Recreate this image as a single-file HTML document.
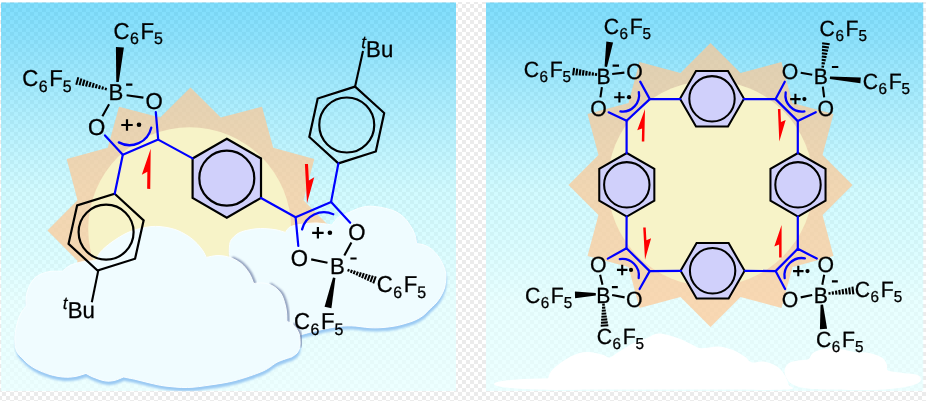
<!DOCTYPE html><html><head><meta charset="utf-8"><style>html,body{margin:0;padding:0;background:#fff}svg{display:block}</style></head><body>
<svg width="926" height="401" viewBox="0 0 926 401" text-rendering="geometricPrecision" style="opacity:0.999">
<defs>
<pattern id="chk" x="2" y="0" width="8" height="8" patternUnits="userSpaceOnUse"><rect width="8" height="8" fill="#fff"/><rect width="4" height="4" fill="#ebebeb"/><rect x="4" y="4" width="4" height="4" fill="#ebebeb"/></pattern>
<linearGradient id="sky" x1="0" y1="0" x2="0" y2="1"><stop offset="0" stop-color="rgb(32,197,251)" stop-opacity="0.57"/><stop offset="0.10" stop-color="rgb(57,204,250)" stop-opacity="0.57"/><stop offset="0.49" stop-color="rgb(168,247,255)" stop-opacity="0.52"/><stop offset="0.77" stop-color="rgb(221,255,255)" stop-opacity="0.68"/><stop offset="1" stop-color="rgb(232,255,255)" stop-opacity="0.8"/></linearGradient>
<clipPath id="cl"><rect x="1" y="2.6" width="455.2" height="388.6"/></clipPath>
<clipPath id="cr"><rect x="486" y="2.6" width="437.5" height="388.6"/></clipPath>
<filter id="b1" x="-5%" y="-5%" width="110%" height="115%"><feGaussianBlur stdDeviation="0.8"/></filter><filter id="b05" x="-10%" y="-10%" width="120%" height="120%"><feGaussianBlur stdDeviation="0.5"/></filter>
<filter id="b07" x="-10%" y="-10%" width="120%" height="120%"><feGaussianBlur stdDeviation="0.8"/></filter>
</defs>
<rect width="926" height="401" fill="#fff"/>
<rect x="0" y="2" width="926" height="399" fill="url(#chk)"/>
<g clip-path="url(#cl)">
<rect x="1" y="2" width="455" height="389" fill="url(#sky)"/>
<polygon points="333.5,230.5 303.51,200.22 314.34,159 273.23,147.77 262,106.66 220.78,117.49 190.5,87.5 160.22,117.49 119,106.66 107.77,147.77 66.66,159 77.49,200.22 47.5,230.5 77.49,260.78 66.66,302 107.77,313.23 119,354.34 160.22,343.51 190.5,373.5 220.78,343.51 262,354.34 273.23,313.23 314.34,302 303.51,260.78" fill="#ffc793" opacity="0.7"/>
<circle cx="189.7" cy="228.8" r="101.5" fill="#f7f3c8"/>
<path d="M230.1,257.6 C230.13,256.27 229.98,251.95 230.3,249.6 C230.62,247.25 230.58,245.58 232,243.5 C233.42,241.42 236.3,238.67 238.8,237.1 C241.3,235.53 244,234.88 247,234.1 C250,233.32 253.68,232.72 256.8,232.4 C259.92,232.08 262.37,232.03 265.7,232.2 C269.03,232.37 273.38,232.77 276.8,233.4 C280.22,234.03 284.63,235.57 286.2,236 C286.97,235.1 288.37,231.92 290.8,230.6 C293.23,229.28 296.47,228.77 300.8,228.1 C305.13,227.43 311.47,226.53 316.8,226.6 C322.13,226.67 330.13,228.18 332.8,228.5 C333.8,227.27 336.3,223 338.8,221.1 C341.3,219.2 344.47,218.6 347.8,217.1 C351.13,215.6 355.05,213.32 358.8,212.1 C362.55,210.88 365.97,209.88 370.3,209.8 C374.63,209.72 380.38,210.67 384.8,211.6 C389.22,212.53 393.3,213.65 396.8,215.4 C400.3,217.15 403.3,219.6 405.8,222.1 C408.3,224.6 410.13,227.65 411.8,230.4 C413.47,233.15 414.87,235.8 415.8,238.6 C416.73,241.4 417.13,245.77 417.4,247.2 C418.63,247.43 422.3,247.67 424.8,248.6 C427.3,249.53 430.07,250.97 432.4,252.8 C434.73,254.63 436.93,257.1 438.8,259.6 C440.67,262.1 442.35,265.13 443.6,267.8 C444.85,270.47 445.8,273.12 446.3,275.6 C446.8,278.08 446.77,280.03 446.6,282.7 C446.43,285.37 446.1,288.8 445.3,291.6 C444.5,294.4 443.22,297 441.8,299.5 C440.38,302 438.68,304.42 436.8,306.6 C434.92,308.78 431.55,311.6 430.5,312.6 C429.38,313.68 426.28,317.23 423.8,319.1 C421.32,320.97 418.6,322.47 415.6,323.8 C412.6,325.13 408.93,326.17 405.8,327.1 C402.67,328.03 400.47,328.73 396.8,329.4 C393.13,330.07 388.13,330.78 383.8,331.1 C379.47,331.42 376.1,331.58 370.8,331.3 C365.5,331.02 357.83,329.52 352,329.4 C346.17,329.28 342.08,329.67 335.8,330.6 C329.52,331.53 320.13,333.67 314.3,335 C308.47,336.33 303.05,338 300.8,338.6 C297.47,337.77 288.3,339.43 280.8,333.6 C273.3,327.77 263.3,312.77 255.8,303.6 C248.3,294.43 240.08,286.27 235.8,278.6 C231.52,270.93 231.05,261.1 230.1,257.6Z" fill="#9ac9f3" filter="url(#b1)"/>
<path d="M229.3,254 C229.33,252.67 229.18,248.35 229.5,246 C229.82,243.65 229.78,241.98 231.2,239.9 C232.62,237.82 235.5,235.07 238,233.5 C240.5,231.93 243.2,231.28 246.2,230.5 C249.2,229.72 252.88,229.12 256,228.8 C259.12,228.48 261.57,228.43 264.9,228.6 C268.23,228.77 272.58,229.17 276,229.8 C279.42,230.43 283.83,231.97 285.4,232.4 C286.17,231.5 287.57,228.32 290,227 C292.43,225.68 295.67,225.17 300,224.5 C304.33,223.83 310.67,222.93 316,223 C321.33,223.07 329.33,224.58 332,224.9 C333,223.67 335.5,219.4 338,217.5 C340.5,215.6 343.67,215 347,213.5 C350.33,212 354.25,209.72 358,208.5 C361.75,207.28 365.17,206.28 369.5,206.2 C373.83,206.12 379.58,207.07 384,208 C388.42,208.93 392.5,210.05 396,211.8 C399.5,213.55 402.5,216 405,218.5 C407.5,221 409.33,224.05 411,226.8 C412.67,229.55 414.07,232.2 415,235 C415.93,237.8 416.33,242.17 416.6,243.6 C417.83,243.83 421.5,244.07 424,245 C426.5,245.93 429.27,247.37 431.6,249.2 C433.93,251.03 436.13,253.5 438,256 C439.87,258.5 441.55,261.53 442.8,264.2 C444.05,266.87 445,269.52 445.5,272 C446,274.48 445.97,276.43 445.8,279.1 C445.63,281.77 445.3,285.2 444.5,288 C443.7,290.8 442.42,293.4 441,295.9 C439.58,298.4 437.88,300.82 436,303 C434.12,305.18 430.75,308 429.7,309 C428.58,310.08 425.48,313.63 423,315.5 C420.52,317.37 417.8,318.87 414.8,320.2 C411.8,321.53 408.13,322.57 405,323.5 C401.87,324.43 399.67,325.13 396,325.8 C392.33,326.47 387.33,327.18 383,327.5 C378.67,327.82 375.3,327.98 370,327.7 C364.7,327.42 357.03,325.92 351.2,325.8 C345.37,325.68 341.28,326.07 335,327 C328.72,327.93 319.33,330.07 313.5,331.4 C307.67,332.73 302.25,334.4 300,335 C296.67,334.17 287.5,335.83 280,330 C272.5,324.17 262.5,309.17 255,300 C247.5,290.83 239.28,282.67 235,275 C230.72,267.33 230.25,257.5 229.3,254Z" fill="#effcff" stroke="#fafeff" stroke-width="1"/>
<path d="M23,362.2 C22.1,361.13 18.83,358.28 17.6,355.8 C16.37,353.32 15.9,350.3 15.6,347.3 C15.3,344.3 15.5,340.92 15.8,337.8 C16.1,334.68 16.52,331.93 17.4,328.6 C18.28,325.27 19.53,320.92 21.1,317.8 C22.67,314.68 25.85,311.22 26.8,309.9 C26.8,308.38 26.42,303.82 26.8,300.8 C27.18,297.78 27.97,294.63 29.1,291.8 C30.23,288.97 31.68,286.05 33.6,283.8 C35.52,281.55 37.77,279.72 40.6,278.3 C43.43,276.88 46.88,275.83 50.6,275.3 C54.32,274.77 60.85,275.13 62.9,275.1 C64.18,274.13 67.32,270.88 70.6,269.3 C73.88,267.72 78.3,266.43 82.6,265.6 C86.9,264.77 94.1,264.52 96.4,264.3 C97.18,262.88 98.4,258.88 101.1,255.8 C103.8,252.72 108.02,249.05 112.6,245.8 C117.18,242.55 123.1,238.72 128.6,236.3 C134.1,233.88 140.43,232.3 145.6,231.3 C150.77,230.3 154.6,229.97 159.6,230.3 C164.6,230.63 170.77,231.72 175.6,233.3 C180.43,234.88 184.93,237.47 188.6,239.8 C192.27,242.13 195.1,244.8 197.6,247.3 C200.1,249.8 202.03,252.48 203.6,254.8 C205.17,257.12 206.43,260.13 207,261.2 C208.93,260.88 214.67,259.28 218.6,259.3 C222.53,259.32 226.77,259.97 230.6,261.3 C234.43,262.63 238.43,264.72 241.6,267.3 C244.77,269.88 247.48,273.47 249.6,276.8 C251.72,280.13 253.52,285.55 254.3,287.3 C255.85,287.22 260.43,286.42 263.6,286.8 C266.77,287.18 270.38,287.93 273.3,289.6 C276.22,291.27 279.13,294.03 281.1,296.8 C283.07,299.57 284.1,303.03 285.1,306.2 C286.1,309.37 286.7,312.63 287.1,315.8 C287.5,318.97 287.43,323.63 287.5,325.2 C288.68,325.88 292.62,327.33 294.6,329.3 C296.58,331.27 298.4,334.5 299.4,337 C300.4,339.5 300.45,341.93 300.6,344.3 C300.75,346.67 300.8,349.12 300.3,351.2 C299.8,353.28 298.93,355.22 297.6,356.8 C296.27,358.38 293.18,360.05 292.3,360.7 C289.93,361.55 282.88,363.45 278.1,365.8 C273.32,368.15 270.68,371.72 263.6,374.8 C256.52,377.88 244.43,381.97 235.6,384.3 C226.77,386.63 218.52,387.63 210.6,388.8 C202.68,389.97 195.6,391.13 188.1,391.3 C180.6,391.47 171.85,390.55 165.6,389.8 C159.35,389.05 155.43,387.88 150.6,386.8 C145.77,385.72 141.02,384.3 136.6,383.3 C132.18,382.3 126.18,381.22 124.1,380.8 C122.52,381.38 117.73,383.67 114.6,384.3 C111.47,384.93 108.8,385.18 105.3,384.6 C101.8,384.02 96.72,382.03 93.6,380.8 C90.48,379.57 87.77,377.8 86.6,377.2 C84.77,377.72 79.33,379.68 75.6,380.3 C71.87,380.92 68.37,381.23 64.2,380.9 C60.03,380.57 54.97,379.55 50.6,378.3 C46.23,377.05 41.5,375.07 38,373.4 C34.5,371.73 32.1,370.17 29.6,368.3 C27.1,366.43 24.1,363.22 23,362.2Z" fill="#9ac9f3" filter="url(#b1)"/>
<path d="M233.1,258.3 C234.6,259.13 239.27,260.88 242.1,263.3 C244.93,265.72 247.98,269.47 250.1,272.8 C252.22,276.13 254.02,281.55 254.8,283.3" fill="none" stroke="#6f7fa6" stroke-width="2.8" stroke-linecap="round" opacity="0.85" filter="url(#b07)"/>
<path d="M271.1,284.6 C272.85,285.97 279.18,289.87 281.6,292.8 C284.02,295.73 284.6,299.03 285.6,302.2 C286.6,305.37 287.2,308.63 287.6,311.8 C288,314.97 287.93,319.63 288,321.2" fill="none" stroke="#6f7fa6" stroke-width="2.8" stroke-linecap="round" opacity="0.85" filter="url(#b07)"/>
<path d="M294.1,324.6 C295.07,326 298.73,330.38 299.9,333 C301.07,335.62 300.95,338.17 301.1,340.3 C301.25,342.43 300.85,344.88 300.8,345.8" fill="none" stroke="#6f7fa6" stroke-width="2.8" stroke-linecap="round" opacity="0.85" filter="url(#b07)"/>
<path d="M22.4,358.4 C21.5,357.33 18.23,354.48 17,352 C15.77,349.52 15.3,346.5 15,343.5 C14.7,340.5 14.9,337.12 15.2,334 C15.5,330.88 15.92,328.13 16.8,324.8 C17.68,321.47 18.93,317.12 20.5,314 C22.07,310.88 25.25,307.42 26.2,306.1 C26.2,304.58 25.82,300.02 26.2,297 C26.58,293.98 27.37,290.83 28.5,288 C29.63,285.17 31.08,282.25 33,280 C34.92,277.75 37.17,275.92 40,274.5 C42.83,273.08 46.28,272.03 50,271.5 C53.72,270.97 60.25,271.33 62.3,271.3 C63.58,270.33 66.72,267.08 70,265.5 C73.28,263.92 77.7,262.63 82,261.8 C86.3,260.97 93.5,260.72 95.8,260.5 C96.58,259.08 97.8,255.08 100.5,252 C103.2,248.92 107.42,245.25 112,242 C116.58,238.75 122.5,234.92 128,232.5 C133.5,230.08 139.83,228.5 145,227.5 C150.17,226.5 154,226.17 159,226.5 C164,226.83 170.17,227.92 175,229.5 C179.83,231.08 184.33,233.67 188,236 C191.67,238.33 194.5,241 197,243.5 C199.5,246 201.43,248.68 203,251 C204.57,253.32 205.83,256.33 206.4,257.4 C208.33,257.08 214.07,255.48 218,255.5 C221.93,255.52 226.17,256.17 230,257.5 C233.83,258.83 237.83,260.92 241,263.5 C244.17,266.08 246.88,269.67 249,273 C251.12,276.33 252.92,281.75 253.7,283.5 C255.25,283.42 259.83,282.62 263,283 C266.17,283.38 269.78,284.13 272.7,285.8 C275.62,287.47 278.53,290.23 280.5,293 C282.47,295.77 283.5,299.23 284.5,302.4 C285.5,305.57 286.1,308.83 286.5,312 C286.9,315.17 286.83,319.83 286.9,321.4 C288.08,322.08 292.02,323.53 294,325.5 C295.98,327.47 297.8,330.7 298.8,333.2 C299.8,335.7 299.85,338.13 300,340.5 C300.15,342.87 300.2,345.32 299.7,347.4 C299.2,349.48 298.33,351.42 297,353 C295.67,354.58 292.58,356.25 291.7,356.9 C289.33,357.75 282.28,359.65 277.5,362 C272.72,364.35 270.08,367.92 263,371 C255.92,374.08 243.83,378.17 235,380.5 C226.17,382.83 217.92,383.83 210,385 C202.08,386.17 195,387.33 187.5,387.5 C180,387.67 171.25,386.75 165,386 C158.75,385.25 154.83,384.08 150,383 C145.17,381.92 140.42,380.5 136,379.5 C131.58,378.5 125.58,377.42 123.5,377 C121.92,377.58 117.13,379.87 114,380.5 C110.87,381.13 108.2,381.38 104.7,380.8 C101.2,380.22 96.12,378.23 93,377 C89.88,375.77 87.17,374 86,373.4 C84.17,373.92 78.73,375.88 75,376.5 C71.27,377.12 67.77,377.43 63.6,377.1 C59.43,376.77 54.37,375.75 50,374.5 C45.63,373.25 40.9,371.27 37.4,369.6 C33.9,367.93 31.5,366.37 29,364.5 C26.5,362.63 23.5,359.42 22.4,358.4Z" fill="#f0fcff" stroke="#fafeff" stroke-width="1"/>
<polygon points="226.8,138.7 261.01,158.45 261.01,197.95 226.8,217.7 192.59,197.95 192.59,158.45" fill="#d0d0fb" stroke="#000" stroke-width="2.2" stroke-linejoin="miter"/>
<circle cx="226.8" cy="178.2" r="27.5" fill="none" stroke="#000" stroke-width="2.2"/>
<polygon points="355.12,86.6 384.19,113.05 375.82,151.45 338.38,163.4 309.31,136.95 317.68,98.55" fill="none" stroke="#000" stroke-width="2.2" stroke-linejoin="miter"/>
<circle cx="346.75" cy="125" r="27.5" fill="none" stroke="#000" stroke-width="2.2"/>
<polygon points="114.68,193.7 143.65,220.33 135.07,258.74 97.52,270.5 68.55,243.87 77.13,205.46" fill="none" stroke="#000" stroke-width="2.2" stroke-linejoin="miter"/>
<circle cx="106.1" cy="232.1" r="27.5" fill="none" stroke="#000" stroke-width="2.2"/>
<polyline points="105,135.4 122.8,154.7 158.2,139.6 155.8,112.2" fill="none" stroke="#0000ff" stroke-width="2.2" stroke-linejoin="round" stroke-linecap="round"/>
<polyline points="158.2,139.6 192.6,158.4" fill="none" stroke="#0000ff" stroke-width="2.2" stroke-linejoin="round" stroke-linecap="round"/>
<polyline points="122.8,154.7 114.7,193.7" fill="none" stroke="#0000ff" stroke-width="2.2" stroke-linejoin="round" stroke-linecap="round"/>
<polyline points="261,198 295.6,217.2 331.1,201.9 338.4,163.4" fill="none" stroke="#0000ff" stroke-width="2.2" stroke-linejoin="round" stroke-linecap="round"/>
<polyline points="331.1,201.9 350.2,222.8" fill="none" stroke="#0000ff" stroke-width="2.2" stroke-linejoin="round" stroke-linecap="round"/>
<polyline points="295.6,217.2 298.3,246" fill="none" stroke="#0000ff" stroke-width="2.2" stroke-linejoin="round" stroke-linecap="round"/>
<line x1="126.6" y1="95.2" x2="143.4" y2="97.6" stroke="#000" stroke-width="2.1" stroke-linecap="butt"/>
<line x1="109.1" y1="104.3" x2="102.4" y2="116.3" stroke="#000" stroke-width="2.1" stroke-linecap="butt"/>
<line x1="311.2" y1="259.4" x2="327.5" y2="262.8" stroke="#000" stroke-width="2.1" stroke-linecap="butt"/>
<line x1="351.4" y1="242.4" x2="344.3" y2="255.6" stroke="#000" stroke-width="2.1" stroke-linecap="butt"/>
<line x1="363" y1="51.1" x2="355.1" y2="86.6" stroke="#000" stroke-width="2.1" stroke-linecap="butt"/>
<line x1="98.3" y1="270.4" x2="91.8" y2="302.2" stroke="#000" stroke-width="2.1" stroke-linecap="butt"/>
<path d="M151.24,127.68 A22.3,22.3 0 0 1 118.79,142.37" fill="none" stroke="#0000ff" stroke-width="2.3" stroke-linecap="round"/>
<path d="M302.09,229.37 A22.6,22.6 0 0 1 333.27,214.31" fill="none" stroke="#0000ff" stroke-width="2.3" stroke-linecap="round"/>
<line x1="121.25" y1="125" x2="132.75" y2="125" stroke="#000" stroke-width="2.2" stroke-linecap="butt"/>
<line x1="127" y1="119.25" x2="127" y2="130.75" stroke="#000" stroke-width="2.2" stroke-linecap="butt"/>
<circle cx="139" cy="124.7" r="2.3" fill="#000"/>
<line x1="312.15" y1="232.8" x2="323.65" y2="232.8" stroke="#000" stroke-width="2.2" stroke-linecap="butt"/>
<line x1="317.9" y1="227.05" x2="317.9" y2="238.55" stroke="#000" stroke-width="2.2" stroke-linecap="butt"/>
<circle cx="329.9" cy="232.8" r="2.3" fill="#000"/>
<line x1="126.1" y1="84.6" x2="132.4" y2="84.6" stroke="#000" stroke-width="2.1" stroke-linecap="butt"/>
<line x1="350.4" y1="258.5" x2="356.6" y2="258.5" stroke="#000" stroke-width="2.1" stroke-linecap="butt"/>
<line x1="106.15" y1="87.65" x2="105.45" y2="90.15" stroke="#000" stroke-width="2" stroke-linecap="butt"/>
<line x1="103.05" y1="86.5" x2="102.21" y2="89.54" stroke="#000" stroke-width="2" stroke-linecap="butt"/>
<line x1="99.96" y1="85.36" x2="98.97" y2="88.93" stroke="#000" stroke-width="2" stroke-linecap="butt"/>
<line x1="96.87" y1="84.21" x2="95.73" y2="88.32" stroke="#000" stroke-width="2" stroke-linecap="butt"/>
<line x1="93.78" y1="83.07" x2="92.49" y2="87.71" stroke="#000" stroke-width="2" stroke-linecap="butt"/>
<line x1="90.68" y1="81.92" x2="89.25" y2="87.1" stroke="#000" stroke-width="2" stroke-linecap="butt"/>
<line x1="87.59" y1="80.77" x2="86.01" y2="86.49" stroke="#000" stroke-width="2" stroke-linecap="butt"/>
<line x1="84.5" y1="79.63" x2="82.77" y2="85.88" stroke="#000" stroke-width="2" stroke-linecap="butt"/>
<line x1="81.41" y1="78.48" x2="79.53" y2="85.27" stroke="#000" stroke-width="2" stroke-linecap="butt"/>
<line x1="78.32" y1="77.34" x2="76.28" y2="84.66" stroke="#000" stroke-width="2" stroke-linecap="butt"/>
<line x1="348.05" y1="271.52" x2="348.95" y2="269.08" stroke="#000" stroke-width="2" stroke-linecap="butt"/>
<line x1="350.85" y1="272.84" x2="351.93" y2="269.9" stroke="#000" stroke-width="2" stroke-linecap="butt"/>
<line x1="353.64" y1="274.15" x2="354.91" y2="270.71" stroke="#000" stroke-width="2" stroke-linecap="butt"/>
<line x1="356.44" y1="275.47" x2="357.89" y2="271.53" stroke="#000" stroke-width="2" stroke-linecap="butt"/>
<line x1="359.24" y1="276.79" x2="360.88" y2="272.35" stroke="#000" stroke-width="2" stroke-linecap="butt"/>
<line x1="362.03" y1="278.1" x2="363.86" y2="273.16" stroke="#000" stroke-width="2" stroke-linecap="butt"/>
<line x1="364.83" y1="279.42" x2="366.84" y2="273.98" stroke="#000" stroke-width="2" stroke-linecap="butt"/>
<line x1="367.63" y1="280.74" x2="369.82" y2="274.8" stroke="#000" stroke-width="2" stroke-linecap="butt"/>
<line x1="370.42" y1="282.05" x2="372.8" y2="275.61" stroke="#000" stroke-width="2" stroke-linecap="butt"/>
<line x1="373.22" y1="283.37" x2="375.78" y2="276.43" stroke="#000" stroke-width="2" stroke-linecap="butt"/>
<polygon points="118.75,82.09 123.89,47.48 115.91,46.92 116.25,81.91" fill="#000"/>
<polygon points="332.98,277.54 324.57,306.78 331.43,308.22 335.42,278.06" fill="#000"/>
<polygon points="150.25,188.9 150.7,148.7 141.81,174.73 147.34,171.78 147.15,188.87" fill="#ff0000"/>
<polygon points="304.9,164.1 307,203.2 314.22,177.32 308.89,180.55 308,163.93" fill="#ff0000"/>
<text transform="translate(113.43,38.95) scale(0.965,1)" font-family="Liberation Sans, sans-serif" font-size="23" fill="#000" stroke="#000" stroke-width="0.3">C<tspan dx="0.5" font-size="16.56" dy="5.29">6</tspan><tspan dx="1.7" dy="-5.29">F</tspan><tspan dx="0" font-size="16.56" dy="5.29">5</tspan></text>
<text transform="translate(22.13,86.35) scale(0.965,1)" font-family="Liberation Sans, sans-serif" font-size="23" fill="#000" stroke="#000" stroke-width="0.3">C<tspan dx="0.5" font-size="16.56" dy="5.29">6</tspan><tspan dx="1.7" dy="-5.29">F</tspan><tspan dx="0" font-size="16.56" dy="5.29">5</tspan></text>
<text transform="translate(116,100.4) scale(0.965,1)" font-family="Liberation Sans, sans-serif" font-size="23" fill="#000" stroke="#000" stroke-width="0.3" text-anchor="middle">B</text>
<text transform="translate(154.1,109) scale(0.965,1)" font-family="Liberation Sans, sans-serif" font-size="23" fill="#000" stroke="#000" stroke-width="0.3" text-anchor="middle">O</text>
<text transform="translate(96.5,134.7) scale(0.965,1)" font-family="Liberation Sans, sans-serif" font-size="23" fill="#000" stroke="#000" stroke-width="0.3" text-anchor="middle">O</text>
<text transform="translate(356.9,240) scale(0.965,1)" font-family="Liberation Sans, sans-serif" font-size="23" fill="#000" stroke="#000" stroke-width="0.3" text-anchor="middle">O</text>
<text transform="translate(299.3,265.5) scale(0.965,1)" font-family="Liberation Sans, sans-serif" font-size="23" fill="#000" stroke="#000" stroke-width="0.3" text-anchor="middle">O</text>
<text transform="translate(337.3,274.2) scale(0.965,1)" font-family="Liberation Sans, sans-serif" font-size="23" fill="#000" stroke="#000" stroke-width="0.3" text-anchor="middle">B</text>
<text transform="translate(376.73,292.35) scale(0.965,1)" font-family="Liberation Sans, sans-serif" font-size="23" fill="#000" stroke="#000" stroke-width="0.3">C<tspan dx="0.5" font-size="16.56" dy="5.29">6</tspan><tspan dx="1.7" dy="-5.29">F</tspan><tspan dx="0" font-size="16.56" dy="5.29">5</tspan></text>
<text transform="translate(293.93,329.35) scale(0.965,1)" font-family="Liberation Sans, sans-serif" font-size="23" fill="#000" stroke="#000" stroke-width="0.3">C<tspan dx="0.5" font-size="16.56" dy="5.29">6</tspan><tspan dx="1.7" dy="-5.29">F</tspan><tspan dx="0" font-size="16.56" dy="5.29">5</tspan></text>
<text x="361.13" y="47.7" font-family="Liberation Sans, sans-serif" font-size="17.25" fill="#000" stroke="#000" stroke-width="0.2" font-style="italic">t</text>
<text transform="translate(366.12,56.9) scale(0.965,1)" font-family="Liberation Sans, sans-serif" font-size="23" fill="#000" stroke="#000" stroke-width="0.3">Bu</text>
<text x="62.83" y="309.1" font-family="Liberation Sans, sans-serif" font-size="17.25" fill="#000" stroke="#000" stroke-width="0.2" font-style="italic">t</text>
<text transform="translate(67.82,318.3) scale(0.965,1)" font-family="Liberation Sans, sans-serif" font-size="23" fill="#000" stroke="#000" stroke-width="0.3">Bu</text>
</g>
<g clip-path="url(#cr)">
<rect x="486" y="2" width="437.5" height="389" fill="url(#sky)"/>
<polygon points="852.5,185 822.55,154.98 833.48,114 792.52,102.98 781.5,62.02 740.52,72.95 710.5,43 680.48,72.95 639.5,62.02 628.48,102.98 587.52,114 598.45,154.98 568.5,185 598.45,215.02 587.52,256 628.48,267.02 639.5,307.98 680.48,297.05 710.5,327 740.52,297.05 781.5,307.98 792.52,267.02 833.48,256 822.55,215.02" fill="#ffc793" opacity="0.7"/>
<circle cx="710.5" cy="183.5" r="102.8" fill="#f7f3c8"/>
<ellipse cx="552" cy="384" rx="58" ry="5.8" fill="#fff"/>
<path d="M547,386 C546.33,384.23 547.33,381.42 548,379 C548.67,376.58 548.83,374.25 551,371.5 C553.17,368.75 557.17,365.25 561,362.5 C564.83,359.75 569.67,356.75 574,355 C578.33,353.25 582.33,352.08 587,352 C591.67,351.92 598.25,353.58 602,354.5 C605.75,355.42 607,357.75 609.5,357.5 C612,357.25 613.25,355.3 617,353 C620.75,350.7 627.17,346.12 632,343.7 C636.83,341.28 641.55,340.18 646,338.5 C650.45,336.82 653.45,333.68 658.7,333.6 C663.95,333.52 671.87,336.15 677.5,338 C683.13,339.85 688.58,343 692.5,344.7 C696.42,346.4 696.63,347.9 701,348.2 C705.37,348.5 713.27,346.15 718.7,346.5 C724.13,346.85 729.22,348.58 733.6,350.3 C737.98,352.02 742.02,354.8 745,356.8 C747.98,358.8 748.4,361.52 751.5,362.3 C754.6,363.08 759.4,360.85 763.6,361.5 C767.8,362.15 773.3,364.12 776.7,366.2 C780.1,368.28 782.03,370.95 784,374 C785.97,377.05 788.17,381.92 788.5,384.5 C788.83,387.08 800.75,388.65 786,389.5 C771.25,390.35 731,389.58 700,389.6 C669,389.62 624.67,389.6 600,389.6 C575.33,389.6 560.83,390.2 552,389.6 C543.17,389 547.67,387.77 547,386Z" fill="#fff"/>
<path d="M784.5,372 C784.12,368.63 786.45,365.22 788.7,363.3 C790.95,361.38 794.73,361.17 798,360.5 C801.27,359.83 805.8,360.53 808.3,359.3 C810.8,358.07 810.65,354.77 813,353.1 C815.35,351.43 818.9,350.15 822.4,349.3 C825.9,348.45 829.63,347.75 834,348 C838.37,348.25 844.6,350.03 848.6,350.8 C852.6,351.57 854.6,352.23 858,352.6 C861.4,352.97 864.97,352.15 869,353 C873.03,353.85 879.2,355.7 882.2,357.7 C885.2,359.7 886.03,362.87 887,365 C887.97,367.13 885.67,369.22 888,370.5 C890.33,371.78 896.33,372.02 901,372.7 C905.67,373.38 912.7,373.63 916,374.6 C919.3,375.57 920.5,377.07 920.8,378.5 C921.1,379.93 921.1,381.67 917.8,383.2 C914.5,384.73 908.8,386.57 901,387.7 C893.2,388.83 882.83,389.68 871,390 C859.17,390.32 840.6,389.83 830,389.6 C819.4,389.37 813.9,389.62 807.4,388.6 C800.9,387.58 794.82,386.27 791,383.5 C787.18,380.73 784.88,375.37 784.5,372Z" fill="#fff"/>
<polygon points="744,98.8 728,126.51 696,126.51 680,98.8 696,71.09 728,71.09" fill="#d0d0fb" stroke="#000" stroke-width="2.05" stroke-linejoin="miter"/>
<circle cx="712" cy="98.8" r="22.7" fill="none" stroke="#000" stroke-width="2.05"/>
<polygon points="744.6,270.8 728.6,298.51 696.6,298.51 680.6,270.8 696.6,243.09 728.6,243.09" fill="#d0d0fb" stroke="#000" stroke-width="2.05" stroke-linejoin="miter"/>
<circle cx="712.6" cy="270.8" r="22.7" fill="none" stroke="#000" stroke-width="2.05"/>
<polygon points="626.8,216.6 599.26,200.7 599.26,168.9 626.8,153 654.34,168.9 654.34,200.7" fill="#d0d0fb" stroke="#000" stroke-width="2.05" stroke-linejoin="miter"/>
<circle cx="626.8" cy="184.8" r="22.7" fill="none" stroke="#000" stroke-width="2.05"/>
<polygon points="798,216.6 770.46,200.7 770.46,168.9 798,153 825.54,168.9 825.54,200.7" fill="#d0d0fb" stroke="#000" stroke-width="2.05" stroke-linejoin="miter"/>
<circle cx="798" cy="184.8" r="22.7" fill="none" stroke="#000" stroke-width="2.05"/>
<polyline points="640.2,81.6 649.8,99.1 626.6,120.7 608.6,112.3" fill="none" stroke="#0000ff" stroke-width="2.2" stroke-linejoin="round" stroke-linecap="round"/>
<polyline points="649.8,99.1 680.2,99.1" fill="none" stroke="#0000ff" stroke-width="2.2" stroke-linejoin="round" stroke-linecap="round"/>
<polyline points="626.6,120.7 626.6,153.2" fill="none" stroke="#0000ff" stroke-width="2.2" stroke-linejoin="round" stroke-linecap="round"/>
<path d="M638.81,92.04 A16.5,16.5 0 0 1 620.39,111.37" fill="none" stroke="#0000ff" stroke-width="2.3" stroke-linecap="round"/>
<polyline points="784.8,81.7 775.6,99.1 797.8,121.1 815.8,112.2" fill="none" stroke="#0000ff" stroke-width="2.2" stroke-linejoin="round" stroke-linecap="round"/>
<polyline points="775.6,99.1 743.9,99.1" fill="none" stroke="#0000ff" stroke-width="2.2" stroke-linejoin="round" stroke-linecap="round"/>
<polyline points="797.8,121.1 797.8,153.2" fill="none" stroke="#0000ff" stroke-width="2.2" stroke-linejoin="round" stroke-linecap="round"/>
<path d="M804.4,111.42 A16.5,16.5 0 0 1 785.69,92.38" fill="none" stroke="#0000ff" stroke-width="2.3" stroke-linecap="round"/>
<polyline points="607.8,258.6 626.5,248.3 649.7,271.1 639.6,289" fill="none" stroke="#0000ff" stroke-width="2.2" stroke-linejoin="round" stroke-linecap="round"/>
<polyline points="626.5,248.3 626.6,216.5" fill="none" stroke="#0000ff" stroke-width="2.2" stroke-linejoin="round" stroke-linecap="round"/>
<polyline points="649.7,271.1 681.1,270.8" fill="none" stroke="#0000ff" stroke-width="2.2" stroke-linejoin="round" stroke-linecap="round"/>
<path d="M619.78,259.17 A16.5,16.5 0 0 1 638.68,278.02" fill="none" stroke="#0000ff" stroke-width="2.3" stroke-linecap="round"/>
<polyline points="816.8,258.6 797.8,248.8 775.6,271.1 785.1,289" fill="none" stroke="#0000ff" stroke-width="2.2" stroke-linejoin="round" stroke-linecap="round"/>
<polyline points="797.8,248.8 797.8,216.5" fill="none" stroke="#0000ff" stroke-width="2.2" stroke-linejoin="round" stroke-linecap="round"/>
<polyline points="775.6,271.1 745.1,270.8" fill="none" stroke="#0000ff" stroke-width="2.2" stroke-linejoin="round" stroke-linecap="round"/>
<path d="M784.65,278.1 A17.5,17.5 0 0 1 804.89,258.31" fill="none" stroke="#0000ff" stroke-width="2.3" stroke-linecap="round"/>
<line x1="612.2" y1="74" x2="624.4" y2="72.6" stroke="#000" stroke-width="2.1" stroke-linecap="butt"/>
<line x1="601.9" y1="87.1" x2="600.4" y2="97.4" stroke="#000" stroke-width="2.1" stroke-linecap="butt"/>
<line x1="800.7" y1="72.8" x2="812.2" y2="74.7" stroke="#000" stroke-width="2.1" stroke-linecap="butt"/>
<line x1="822.8" y1="86.6" x2="824.2" y2="97.4" stroke="#000" stroke-width="2.1" stroke-linecap="butt"/>
<line x1="600.1" y1="274.7" x2="602.5" y2="284.7" stroke="#000" stroke-width="2.1" stroke-linecap="butt"/>
<line x1="612.1" y1="295" x2="624.6" y2="297.4" stroke="#000" stroke-width="2.1" stroke-linecap="butt"/>
<line x1="824.2" y1="274.7" x2="822.3" y2="284.7" stroke="#000" stroke-width="2.1" stroke-linecap="butt"/>
<line x1="800.7" y1="297.4" x2="812.2" y2="295" stroke="#000" stroke-width="2.1" stroke-linecap="butt"/>
<line x1="614.15" y1="97.2" x2="624.65" y2="97.2" stroke="#000" stroke-width="2.1" stroke-linecap="butt"/>
<line x1="619.4" y1="91.95" x2="619.4" y2="102.45" stroke="#000" stroke-width="2.1" stroke-linecap="butt"/>
<circle cx="629" cy="97.2" r="2.1" fill="#000"/>
<line x1="790.15" y1="99.1" x2="800.65" y2="99.1" stroke="#000" stroke-width="2.1" stroke-linecap="butt"/>
<line x1="795.4" y1="93.85" x2="795.4" y2="104.35" stroke="#000" stroke-width="2.1" stroke-linecap="butt"/>
<circle cx="804.4" cy="99.1" r="2.1" fill="#000"/>
<line x1="616.95" y1="269.9" x2="627.45" y2="269.9" stroke="#000" stroke-width="2.1" stroke-linecap="butt"/>
<line x1="622.2" y1="264.65" x2="622.2" y2="275.15" stroke="#000" stroke-width="2.1" stroke-linecap="butt"/>
<circle cx="631" cy="269.9" r="2.1" fill="#000"/>
<line x1="793.05" y1="271.1" x2="803.55" y2="271.1" stroke="#000" stroke-width="2.1" stroke-linecap="butt"/>
<line x1="798.3" y1="265.85" x2="798.3" y2="276.35" stroke="#000" stroke-width="2.1" stroke-linecap="butt"/>
<circle cx="807.5" cy="271.1" r="2.1" fill="#000"/>
<line x1="612.6" y1="65.6" x2="619" y2="65.6" stroke="#000" stroke-width="2.1" stroke-linecap="butt"/>
<line x1="831.9" y1="67" x2="838.3" y2="67" stroke="#000" stroke-width="2.1" stroke-linecap="butt"/>
<line x1="611.9" y1="287.1" x2="617.8" y2="287.1" stroke="#000" stroke-width="2.1" stroke-linecap="butt"/>
<line x1="831.9" y1="281.4" x2="837.8" y2="281.4" stroke="#000" stroke-width="2.1" stroke-linecap="butt"/>
<line x1="596.17" y1="73.21" x2="595.83" y2="75.79" stroke="#000" stroke-width="2.1" stroke-linecap="butt"/>
<line x1="593.01" y1="72.44" x2="592.59" y2="75.73" stroke="#000" stroke-width="2.1" stroke-linecap="butt"/>
<line x1="589.86" y1="71.67" x2="589.34" y2="75.67" stroke="#000" stroke-width="2.1" stroke-linecap="butt"/>
<line x1="586.7" y1="70.91" x2="586.1" y2="75.61" stroke="#000" stroke-width="2.1" stroke-linecap="butt"/>
<line x1="583.55" y1="70.14" x2="582.85" y2="75.55" stroke="#000" stroke-width="2.1" stroke-linecap="butt"/>
<line x1="580.4" y1="69.37" x2="579.6" y2="75.49" stroke="#000" stroke-width="2.1" stroke-linecap="butt"/>
<line x1="577.24" y1="68.6" x2="576.36" y2="75.43" stroke="#000" stroke-width="2.1" stroke-linecap="butt"/>
<line x1="574.09" y1="67.83" x2="573.11" y2="75.37" stroke="#000" stroke-width="2.1" stroke-linecap="butt"/>
<line x1="824.09" y1="66.78" x2="821.51" y2="66.42" stroke="#000" stroke-width="2.1" stroke-linecap="butt"/>
<line x1="824.88" y1="63.57" x2="821.6" y2="63.12" stroke="#000" stroke-width="2.1" stroke-linecap="butt"/>
<line x1="825.68" y1="60.36" x2="821.69" y2="59.81" stroke="#000" stroke-width="2.1" stroke-linecap="butt"/>
<line x1="826.48" y1="57.15" x2="821.78" y2="56.51" stroke="#000" stroke-width="2.1" stroke-linecap="butt"/>
<line x1="827.28" y1="53.94" x2="821.87" y2="53.2" stroke="#000" stroke-width="2.1" stroke-linecap="butt"/>
<line x1="828.07" y1="50.73" x2="821.96" y2="49.9" stroke="#000" stroke-width="2.1" stroke-linecap="butt"/>
<line x1="828.87" y1="47.52" x2="822.05" y2="46.59" stroke="#000" stroke-width="2.1" stroke-linecap="butt"/>
<line x1="829.67" y1="44.31" x2="822.13" y2="43.29" stroke="#000" stroke-width="2.1" stroke-linecap="butt"/>
<line x1="602.2" y1="304.76" x2="604.8" y2="304.64" stroke="#000" stroke-width="2.1" stroke-linecap="butt"/>
<line x1="601.99" y1="307.75" x2="605.3" y2="307.59" stroke="#000" stroke-width="2.1" stroke-linecap="butt"/>
<line x1="601.77" y1="310.74" x2="605.8" y2="310.55" stroke="#000" stroke-width="2.1" stroke-linecap="butt"/>
<line x1="601.56" y1="313.73" x2="606.3" y2="313.5" stroke="#000" stroke-width="2.1" stroke-linecap="butt"/>
<line x1="601.35" y1="316.72" x2="606.8" y2="316.45" stroke="#000" stroke-width="2.1" stroke-linecap="butt"/>
<line x1="601.13" y1="319.71" x2="607.3" y2="319.41" stroke="#000" stroke-width="2.1" stroke-linecap="butt"/>
<line x1="600.92" y1="322.69" x2="607.8" y2="322.36" stroke="#000" stroke-width="2.1" stroke-linecap="butt"/>
<line x1="600.7" y1="325.68" x2="608.3" y2="325.32" stroke="#000" stroke-width="2.1" stroke-linecap="butt"/>
<line x1="829.66" y1="294.69" x2="829.34" y2="292.11" stroke="#000" stroke-width="2.1" stroke-linecap="butt"/>
<line x1="833.05" y1="294.63" x2="832.64" y2="291.34" stroke="#000" stroke-width="2.1" stroke-linecap="butt"/>
<line x1="836.43" y1="294.57" x2="835.94" y2="290.57" stroke="#000" stroke-width="2.1" stroke-linecap="butt"/>
<line x1="839.82" y1="294.51" x2="839.24" y2="289.8" stroke="#000" stroke-width="2.1" stroke-linecap="butt"/>
<line x1="843.21" y1="294.45" x2="842.54" y2="289.04" stroke="#000" stroke-width="2.1" stroke-linecap="butt"/>
<line x1="846.59" y1="294.39" x2="845.83" y2="288.27" stroke="#000" stroke-width="2.1" stroke-linecap="butt"/>
<line x1="849.98" y1="294.33" x2="849.13" y2="287.5" stroke="#000" stroke-width="2.1" stroke-linecap="butt"/>
<line x1="853.37" y1="294.27" x2="852.43" y2="286.73" stroke="#000" stroke-width="2.1" stroke-linecap="butt"/>
<polygon points="607.03,66.99 613.06,42.53 606.34,41.47 604.57,66.61" fill="#000"/>
<polygon points="829.79,79.05 860.36,83.19 860.84,77.61 830.01,76.55" fill="#000"/>
<polygon points="595.77,293.05 574.92,291.45 575.08,298.15 595.83,295.55" fill="#000"/>
<polygon points="820.55,304.79 819.91,329.35 827.09,328.85 823.05,304.61" fill="#000"/>
<polygon points="644.3,141.6 645,109.1 637.24,130.23 642.08,128.55 641.8,141.55" fill="#ff0000"/>
<polygon points="777.9,109.1 779.3,141.6 785.68,120 780.96,121.99 780.4,108.99" fill="#ff0000"/>
<polygon points="643.2,227.6 645,259.7 651.11,238.27 646.42,240.3 645.7,227.46" fill="#ff0000"/>
<polygon points="781.6,257.6 781.6,225.1 774.3,246.39 779.1,244.6 779.1,257.6" fill="#ff0000"/>
<text transform="translate(603.68,34.15) scale(0.965,1)" font-family="Liberation Sans, sans-serif" font-size="22" fill="#000" stroke="#000" stroke-width="0.3">C<tspan dx="0.5" font-size="15.84" dy="5.06">6</tspan><tspan dx="1.7" dy="-5.06">F</tspan><tspan dx="0" font-size="15.84" dy="5.06">5</tspan></text>
<text transform="translate(523.68,77.25) scale(0.965,1)" font-family="Liberation Sans, sans-serif" font-size="22" fill="#000" stroke="#000" stroke-width="0.3">C<tspan dx="0.5" font-size="15.84" dy="5.06">6</tspan><tspan dx="1.7" dy="-5.06">F</tspan><tspan dx="0" font-size="15.84" dy="5.06">5</tspan></text>
<text transform="translate(603.7,83.7) scale(0.965,1)" font-family="Liberation Sans, sans-serif" font-size="22" fill="#000" stroke="#000" stroke-width="0.3" text-anchor="middle">B</text>
<text transform="translate(634.5,79.3) scale(0.965,1)" font-family="Liberation Sans, sans-serif" font-size="22" fill="#000" stroke="#000" stroke-width="0.3" text-anchor="middle">O</text>
<text transform="translate(598.5,115.6) scale(0.965,1)" font-family="Liberation Sans, sans-serif" font-size="22" fill="#000" stroke="#000" stroke-width="0.3" text-anchor="middle">O</text>
<text transform="translate(819.58,36.05) scale(0.965,1)" font-family="Liberation Sans, sans-serif" font-size="22" fill="#000" stroke="#000" stroke-width="0.3">C<tspan dx="0.5" font-size="15.84" dy="5.06">6</tspan><tspan dx="1.7" dy="-5.06">F</tspan><tspan dx="0" font-size="15.84" dy="5.06">5</tspan></text>
<text transform="translate(862.68,89.15) scale(0.965,1)" font-family="Liberation Sans, sans-serif" font-size="22" fill="#000" stroke="#000" stroke-width="0.3">C<tspan dx="0.5" font-size="15.84" dy="5.06">6</tspan><tspan dx="1.7" dy="-5.06">F</tspan><tspan dx="0" font-size="15.84" dy="5.06">5</tspan></text>
<text transform="translate(820.8,83.5) scale(0.965,1)" font-family="Liberation Sans, sans-serif" font-size="22" fill="#000" stroke="#000" stroke-width="0.3" text-anchor="middle">B</text>
<text transform="translate(790.1,79.4) scale(0.965,1)" font-family="Liberation Sans, sans-serif" font-size="22" fill="#000" stroke="#000" stroke-width="0.3" text-anchor="middle">O</text>
<text transform="translate(825.7,115.5) scale(0.965,1)" font-family="Liberation Sans, sans-serif" font-size="22" fill="#000" stroke="#000" stroke-width="0.3" text-anchor="middle">O</text>
<text transform="translate(598.3,271.7) scale(0.965,1)" font-family="Liberation Sans, sans-serif" font-size="22" fill="#000" stroke="#000" stroke-width="0.3" text-anchor="middle">O</text>
<text transform="translate(603.4,302.6) scale(0.965,1)" font-family="Liberation Sans, sans-serif" font-size="22" fill="#000" stroke="#000" stroke-width="0.3" text-anchor="middle">B</text>
<text transform="translate(634.2,306.9) scale(0.965,1)" font-family="Liberation Sans, sans-serif" font-size="22" fill="#000" stroke="#000" stroke-width="0.3" text-anchor="middle">O</text>
<text transform="translate(524.88,302.95) scale(0.965,1)" font-family="Liberation Sans, sans-serif" font-size="22" fill="#000" stroke="#000" stroke-width="0.3">C<tspan dx="0.5" font-size="15.84" dy="5.06">6</tspan><tspan dx="1.7" dy="-5.06">F</tspan><tspan dx="0" font-size="15.84" dy="5.06">5</tspan></text>
<text transform="translate(596.68,344.35) scale(0.965,1)" font-family="Liberation Sans, sans-serif" font-size="22" fill="#000" stroke="#000" stroke-width="0.3">C<tspan dx="0.5" font-size="15.84" dy="5.06">6</tspan><tspan dx="1.7" dy="-5.06">F</tspan><tspan dx="0" font-size="15.84" dy="5.06">5</tspan></text>
<text transform="translate(825.7,271.7) scale(0.965,1)" font-family="Liberation Sans, sans-serif" font-size="22" fill="#000" stroke="#000" stroke-width="0.3" text-anchor="middle">O</text>
<text transform="translate(820.8,302.6) scale(0.965,1)" font-family="Liberation Sans, sans-serif" font-size="22" fill="#000" stroke="#000" stroke-width="0.3" text-anchor="middle">B</text>
<text transform="translate(790.1,306.9) scale(0.965,1)" font-family="Liberation Sans, sans-serif" font-size="22" fill="#000" stroke="#000" stroke-width="0.3" text-anchor="middle">O</text>
<text transform="translate(854.78,296.65) scale(0.965,1)" font-family="Liberation Sans, sans-serif" font-size="22" fill="#000" stroke="#000" stroke-width="0.3">C<tspan dx="0.5" font-size="15.84" dy="5.06">6</tspan><tspan dx="1.7" dy="-5.06">F</tspan><tspan dx="0" font-size="15.84" dy="5.06">5</tspan></text>
<text transform="translate(815.98,347.25) scale(0.965,1)" font-family="Liberation Sans, sans-serif" font-size="22" fill="#000" stroke="#000" stroke-width="0.3">C<tspan dx="0.5" font-size="15.84" dy="5.06">6</tspan><tspan dx="1.7" dy="-5.06">F</tspan><tspan dx="0" font-size="15.84" dy="5.06">5</tspan></text>
</g>
</svg></body></html>
